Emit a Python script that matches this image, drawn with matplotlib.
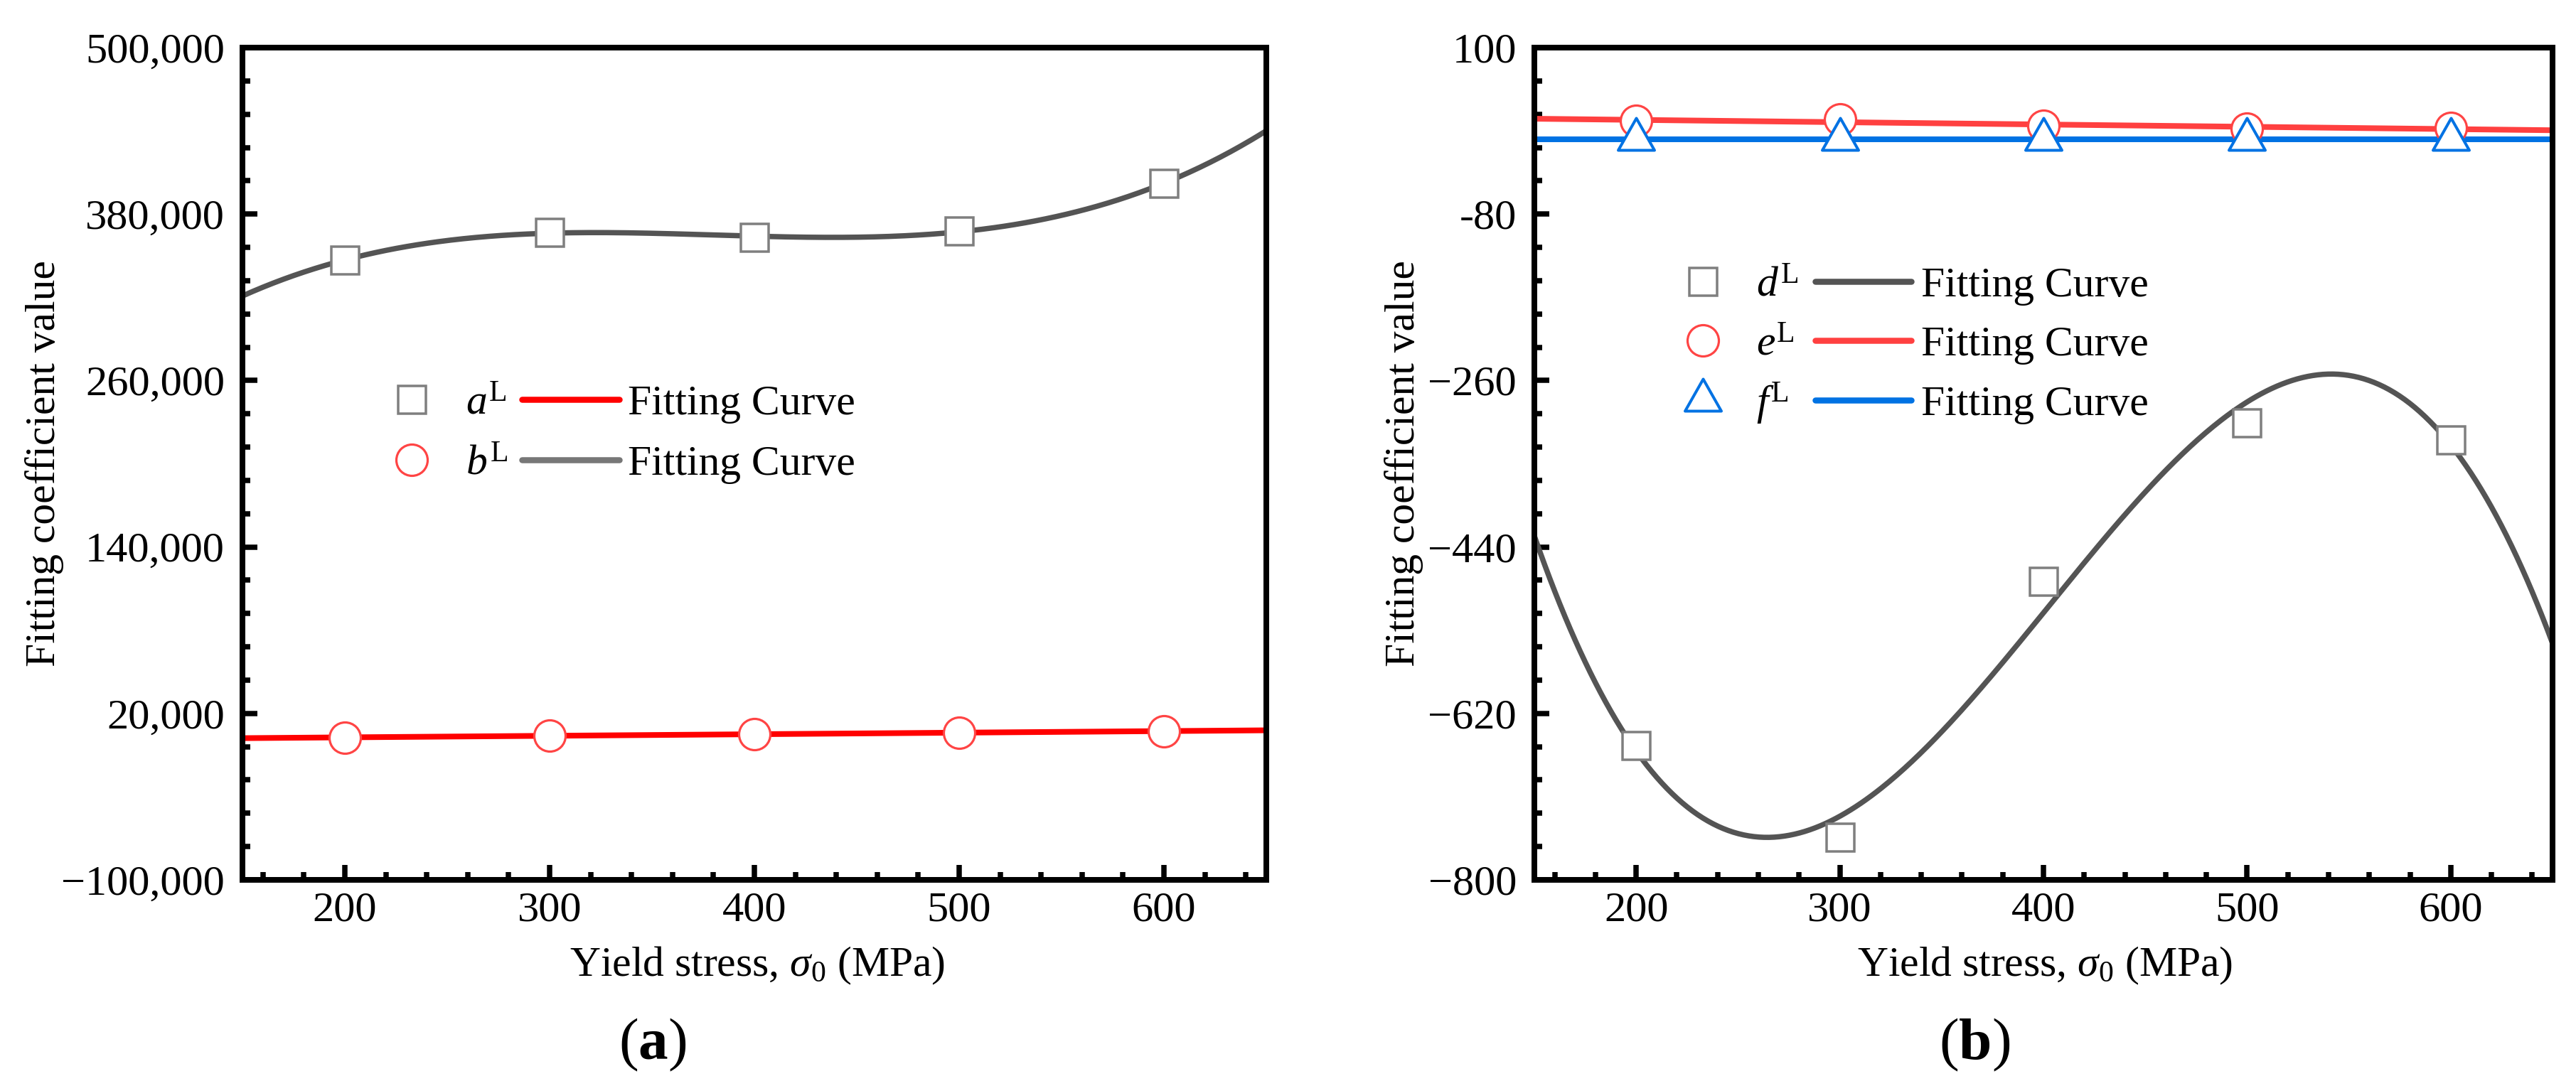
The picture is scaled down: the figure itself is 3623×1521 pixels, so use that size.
import numpy as np
import matplotlib
matplotlib.use('Agg')
import matplotlib.pyplot as plt
from matplotlib.ticker import AutoMinorLocator
from matplotlib.path import Path

# ---------------- data ----------------
sigma = [200, 300, 400, 500, 600]
a_L = [346800, 366800, 363200, 367800, 402100]
b_L = [2700, 3900, 5000, 6200, 7200]
d_L = [-655, -754, -477, -306, -324]
e_L = [21.0, 22.0, 15.6, 12.5, 13.3]
f_L = [0.9, 0.9, 0.9, 0.9, 0.9]

x_ticks = [200, 300, 400, 500, 600]
x_tick_labels = ['200', '300', '400', '500', '600']
ya_ticks = [-100000, 20000, 140000, 260000, 380000, 500000]
ya_tick_labels = ['\u2212100,000', '20,000', '140,000', '260,000', '380,000', '500,000']
yb_ticks = [-800, -620, -440, -260, -80, 100]
yb_tick_labels = ['\u2212800', '\u2212620', '\u2212440', '\u2212260', '-80', '100']

legend_a = [('a', 's'), ('b', 'o')]
legend_b = [('d', 's'), ('e', 'o'), ('f', 't')]
fit_label = 'Fitting Curve'
x_label = r'Yield stress, $\sigma_{\mathrm{0}}$ (MPa)'
y_label = 'Fitting coefficient value'

# ---------------- style ----------------
plt.rcParams['font.family'] = ['Liberation Serif', 'DejaVu Serif']
plt.rcParams['mathtext.fontset'] = 'custom'
plt.rcParams['mathtext.rm'] = 'Liberation Serif'
plt.rcParams['mathtext.it'] = 'Liberation Serif:italic'
plt.rcParams['mathtext.bf'] = 'Liberation Serif:bold'

DPI = 300
W, H = 3623, 1521
fig = plt.figure(figsize=(W / DPI, H / DPI), dpi=DPI)

def px(v):
    return v * 72.0 / DPI

GRAY_MK = '#7f7f7f'
GRAY_LN = '#545454'
GRAY_LEG = '#777777'
RED_A = '#ff0000'
RED_MK = '#ff4444'
RED_B = '#ff4040'
BLUE = '#0072e3'

tri = Path([(0, 30), (-25.5, -15), (25.5, -15), (0, 30)], closed=True)

TICK_FS = 14.5
LAB_FS = 14.3
LEG_FS = 14.3

ax_a = fig.add_axes([341 / W, 1 - 1238 / H, 1440 / W, 1171 / H])
ax_b = fig.add_axes([2158 / W, 1 - 1238 / H, 1432 / W, 1171 / H])

for ax in (ax_a, ax_b):
    for s in ax.spines.values():
        s.set_linewidth(px(8))
    ax.set_xlim(150, 650)
    ax.set_xticks(x_ticks, x_tick_labels)
    ax.xaxis.set_minor_locator(AutoMinorLocator(5))
    ax.yaxis.set_minor_locator(AutoMinorLocator(5))
    ax.tick_params(which='both', direction='in', top=False, right=False,
                   width=px(7.5), labelsize=TICK_FS)
    ax.tick_params(which='major', length=px(21))
    ax.tick_params(which='minor', length=px(11))
    ax.tick_params(axis='y', which='major', pad=px(25))
    ax.tick_params(axis='x', which='major', pad=px(17))

ax_a.set_ylim(-100000, 500000)
ax_a.set_yticks(ya_ticks, ya_tick_labels)
ax_b.set_ylim(-800, 100)
ax_b.set_yticks(yb_ticks, yb_tick_labels)

x_fit = np.linspace(150, 650, 400)

# ---- panel (a)
ax_a.plot(x_fit, np.polyval(np.polyfit(sigma, a_L, 3), x_fit), color=GRAY_LN,
          lw=px(7.5), zorder=2, solid_capstyle='butt')
ax_a.plot(x_fit, np.polyval(np.polyfit(sigma, b_L, 1), x_fit), color=RED_A,
          lw=px(8), zorder=2, solid_capstyle='butt')
ax_a.plot(sigma, a_L, ls='none', marker='s', ms=px(39), mfc='white',
          mec=GRAY_MK, mew=px(3.5), zorder=3)
ax_a.plot(sigma, b_L, ls='none', marker='o', ms=px(44), mfc='white',
          mec=RED_MK, mew=px(3.2), zorder=3)

# ---- panel (b)
ax_b.plot(x_fit, np.polyval(np.polyfit(sigma, d_L, 3), x_fit), color=GRAY_LN,
          lw=px(7.5), zorder=2, solid_capstyle='butt')
ax_b.plot(x_fit, np.polyval(np.polyfit(sigma, f_L, 1), x_fit), color=BLUE,
          lw=px(8), zorder=2, solid_capstyle='butt')
ax_b.plot(x_fit, np.polyval(np.polyfit(sigma, e_L, 1), x_fit), color=RED_B,
          lw=px(8), zorder=2, solid_capstyle='butt')
ax_b.plot(sigma, d_L, ls='none', marker='s', ms=px(39), mfc='white',
          mec=GRAY_MK, mew=px(3.5), zorder=3)
ax_b.plot(sigma, e_L, ls='none', marker='o', ms=px(44), mfc='white',
          mec=RED_MK, mew=px(3.2), zorder=3)
ax_b.plot(sigma, f_L, ls='none', marker=tri, ms=px(60), mfc='white',
          mec=BLUE, mew=px(4), zorder=4)

# ---------------- legends (drawn manually, Origin style) ----------------
def draw_legend(ax, entries, rows_y, mk_x, lab_x, line_x0, line_x1, txt_x):
    trans = ax.transAxes
    ax_h_px = 1171.0
    for (name, kind, mcol, lcol), y in zip(entries, rows_y):
        if kind == 's':
            ax.plot([mk_x], [y], transform=trans, ls='none', marker='s', ms=px(39),
                    mfc='white', mec=mcol, mew=px(3.5), clip_on=False)
        elif kind == 'o':
            ax.plot([mk_x], [y], transform=trans, ls='none', marker='o', ms=px(44),
                    mfc='white', mec=mcol, mew=px(3.2), clip_on=False)
        else:
            ax.plot([mk_x], [y], transform=trans, ls='none', marker=tri, ms=px(60),
                    mfc='white', mec=mcol, mew=px(4), clip_on=False)
        yb = y - 21.0 / ax_h_px
        ax.text(lab_x, yb, r'$%s^{\mathrm{L}}$' % name, transform=trans,
                fontsize=LEG_FS, ha='left', va='baseline')
        ax.plot([line_x0, line_x1], [y, y], transform=trans, color=lcol,
                lw=px(8.5), solid_capstyle='round', clip_on=False)
        ax.text(txt_x, yb, fit_label, transform=trans, fontsize=LEG_FS,
                ha='left', va='baseline')

entries_a = [(legend_a[0][0], legend_a[0][1], GRAY_MK, RED_A),
             (legend_a[1][0], legend_a[1][1], RED_MK, GRAY_LEG)]
draw_legend(ax_a, entries_a, [0.5773, 0.5047], 0.1653, 0.2180, 0.2730, 0.3681, 0.3764)

entries_b = [(legend_b[0][0], legend_b[0][1], GRAY_MK, GRAY_LN),
             (legend_b[1][0], legend_b[1][1], RED_MK, RED_B),
             (legend_b[2][0], legend_b[2][1], BLUE, BLUE)]
draw_legend(ax_b, entries_b, [0.7190, 0.6482, 0.5764], 0.1655, 0.2180, 0.2760, 0.3701, 0.3799)

# ---------------- axis labels and captions ----------------
for cx in (1065, 2876):
    fig.text(cx / W, 1 - 1373 / H, x_label, fontsize=LAB_FS, ha='center', va='baseline')
for cx in (63, 1974):
    fig.text(cx / W, 1 - 652 / H, y_label, fontsize=LAB_FS, ha='center', va='center',
             rotation=90)
fig.text(918 / W, 1 - 1490 / H, r'($\mathbf{a}$)', fontsize=20, ha='center', va='baseline')
fig.text(2777 / W, 1 - 1490 / H, r'($\mathbf{b}$)', fontsize=20, ha='center', va='baseline')

fig.savefig('out.png', dpi=DPI, facecolor='white')
